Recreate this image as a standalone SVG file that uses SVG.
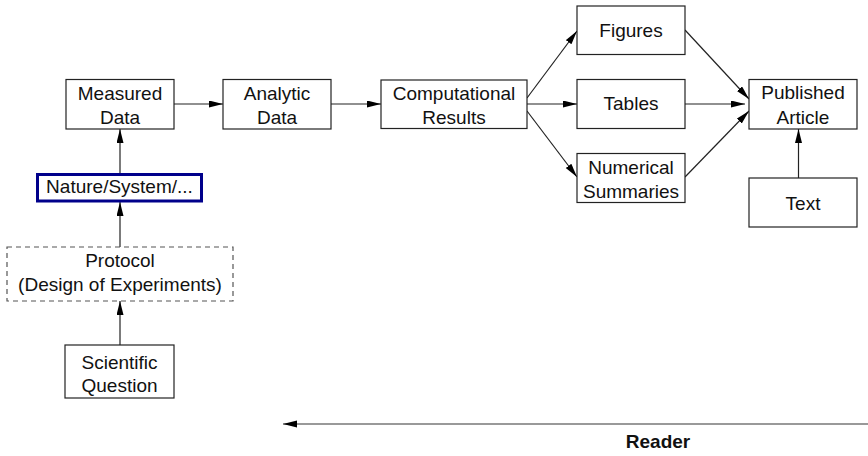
<svg xmlns="http://www.w3.org/2000/svg" width="868" height="456" viewBox="0 0 868 456">
<style>
.box{fill:#fff;stroke:#222;stroke-width:1.2}
.t{font-family:"Liberation Sans",Arial,sans-serif;font-size:19px;fill:#111;text-anchor:middle}
.c{stroke:#222;stroke-width:1.2;fill:none;marker-end:url(#ah)}
</style>
<defs>
<marker id="ah" markerUnits="userSpaceOnUse" markerWidth="15" markerHeight="8" refX="14" refY="3.5" orient="auto">
<path d="M0,0 L14,3.5 L0,7 z" fill="#000"/>
</marker>
<marker id="ah2" markerUnits="userSpaceOnUse" markerWidth="15" markerHeight="8" refX="14" refY="3.5" orient="auto">
<path d="M0,0 L14,3.5 L0,7 z" fill="#000"/>
</marker>
</defs>
<rect width="868" height="456" fill="#fff"/>
<g id="connectors">
<line class="c" x1="174" y1="104" x2="223" y2="104"/>
<line class="c" x1="331" y1="104" x2="381" y2="104"/>
<line class="c" x1="527" y1="98" x2="577" y2="31"/>
<line class="c" x1="527" y1="104" x2="577" y2="104"/>
<line class="c" x1="527" y1="111" x2="577" y2="177"/>
<line class="c" x1="685" y1="30" x2="749" y2="99"/>
<line class="c" x1="685" y1="104" x2="745" y2="104"/>
<line class="c" x1="685" y1="177" x2="749" y2="111"/>
<line class="c" x1="798.5" y1="178" x2="798.5" y2="129"/>
<line class="c" x1="120" y1="173" x2="120" y2="129"/>
<line class="c" x1="120" y1="247" x2="120" y2="202"/>
<line class="c" x1="120" y1="345" x2="120" y2="301"/>
<line x1="868" y1="424" x2="283" y2="424" stroke="#777" stroke-width="1.5" marker-end="url(#ah2)"/>
</g>
<g id="measured">
<rect class="box" x="66" y="79.5" width="108" height="49.5"/>
<text class="t" x="120" y="99.5">Measured</text>
<text class="t" x="120" y="124">Data</text>
</g>
<g id="analytic">
<rect class="box" x="223" y="79.5" width="108" height="49.5"/>
<text class="t" x="277" y="99.5">Analytic</text>
<text class="t" x="277" y="124">Data</text>
</g>
<g id="computational">
<rect class="box" x="381" y="80" width="146" height="48.5"/>
<text class="t" x="454" y="99.5">Computational</text>
<text class="t" x="454" y="123.5">Results</text>
</g>
<g id="figures">
<rect class="box" x="577" y="6" width="108" height="48.5"/>
<text class="t" x="631" y="36.5">Figures</text>
</g>
<g id="tables">
<rect class="box" x="577" y="79.5" width="108" height="49"/>
<text class="t" x="631" y="110">Tables</text>
</g>
<g id="numerical">
<rect class="box" x="577" y="153.5" width="108" height="49"/>
<text class="t" x="631" y="173.5">Numerical</text>
<text class="t" x="631" y="197.5">Summaries</text>
</g>
<g id="published">
<rect class="box" x="749" y="79.5" width="108" height="49.5"/>
<text class="t" x="803" y="99">Published</text>
<text class="t" x="803" y="124">Article</text>
</g>
<g id="text">
<rect class="box" x="749" y="178" width="108" height="49"/>
<text class="t" x="803" y="210">Text</text>
</g>
<g id="nature">
<rect x="37.5" y="174.5" width="164" height="26.5" fill="#fff" stroke="#00008B" stroke-width="3"/>
<text class="t" x="119.5" y="193">Nature/System/...</text>
</g>
<g id="protocol">
<rect x="7" y="247" width="226" height="54" fill="#fff" stroke="#555" stroke-width="1.2" stroke-dasharray="5,4"/>
<text class="t" x="120" y="267">Protocol</text>
<text class="t" x="120" y="291">(Design of Experiments)</text>
</g>
<g id="question">
<rect class="box" x="65" y="345" width="109" height="53"/>
<text class="t" x="119.5" y="368.5">Scientific</text>
<text class="t" x="119.5" y="392">Question</text>
</g>
<g id="reader">
<text class="t" x="658" y="448" font-weight="bold">Reader</text>
</g>
</svg>
